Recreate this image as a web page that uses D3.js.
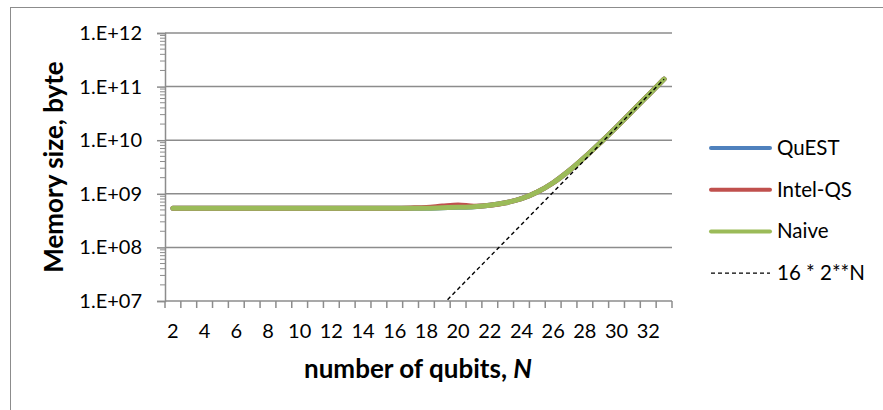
<!DOCTYPE html>
<html><head><meta charset="utf-8">
<script src="https://cdn.jsdelivr.net/npm/d3@7"></script>
<style>body{margin:0;background:#fff}svg{display:block}text{font-family:Lato,"Open Sans",sans-serif;fill:#000}</style>
</head><body><svg id="c" width="883" height="410"></svg>
<script>
const qubits = [2,3,4,5,6,7,8,9,10,11,12,13,14,15,16,17,18,19,20,21,22,23,24,25,26,27,28,29,30,31,32,33];
const quest = [5.4e8,5.4e8,5.4e8,5.4e8,5.4e8,5.4e8,5.4e8,5.4e8,5.4e8,5.4e8,5.4e8,5.4e8,5.4e8,5.4e8,5.4e8,5.4e8,5.4e8,5.5e8,5.6e8,5.75e8,6.1e8,6.8e8,8.1e8,1.08e9,1.61e9,2.69e9,4.83e9,9.13e9,1.77e10,3.49e10,6.93e10,1.38e11];
const intelQS = [5.4e8,5.4e8,5.4e8,5.4e8,5.4e8,5.4e8,5.4e8,5.4e8,5.4e8,5.4e8,5.4e8,5.4e8,5.4e8,5.4e8,5.4e8,5.45e8,5.55e8,5.9e8,6.2e8,5.85e8,6.1e8,6.8e8,8.1e8,1.08e9,1.61e9,2.69e9,4.83e9,9.13e9,1.77e10,3.49e10,6.93e10,1.38e11];
const naive = [5.4e8,5.4e8,5.4e8,5.4e8,5.4e8,5.4e8,5.4e8,5.4e8,5.4e8,5.4e8,5.4e8,5.4e8,5.4e8,5.4e8,5.4e8,5.4e8,5.4e8,5.5e8,5.6e8,5.75e8,6.1e8,6.8e8,8.1e8,1.08e9,1.61e9,2.69e9,4.83e9,9.13e9,1.77e10,3.49e10,6.93e10,1.38e11];
const ideal = [64,128,256,512,1024,2048,4096,8192,16384,32768,65536,131072,262144,524288,1048576,2097152,4194304,8388608,16777216,33554432,67108864,134217728,268435456,536870912,1073741824,2147483648,4294967296,8589934592,17179869184,34359738368,68719476736,137438953472];
const xTickLabels = [2,4,6,8,10,12,14,16,18,20,22,24,26,28,30,32];
const yTickValues = [1e7,1e8,1e9,1e10,1e11,1e12];
const yTickLabels = ["1.E+07","1.E+08","1.E+09","1.E+10","1.E+11","1.E+12"];
const seriesNames = ["QuEST","Intel-QS","Naive","16 * 2**N"];
const seriesColors = ["#4F81BD","#C0504D","#9BBB59","#000"];

const svg = d3.select("#c");
const L=165, R=672, T=33, B=301;
const grid = "#8c8c8c";

// outer frame
svg.append("rect").attr("x",10.5).attr("y",7.5).attr("width",900).attr("height",420)
  .attr("fill","none").attr("stroke","#8c8c8c").attr("stroke-width",1);

const x = d3.scaleBand().domain(qubits).range([L,R]).padding(0);
const y = d3.scaleLog().domain([1e7,1e12]).range([B,T]);

// gridlines
svg.append("g").selectAll("line").data(yTickValues.slice(1)).join("line")
  .attr("x1",L).attr("x2",R).attr("y1",d=>y(d)).attr("y2",d=>y(d))
  .attr("stroke",grid).attr("stroke-width",1.5);

// y minor ticks
const minor = [];
for (let e=7;e<12;e++) for (let m=2;m<=9;m++) minor.push(m*Math.pow(10,e));
svg.append("g").selectAll("line").data(minor).join("line")
  .attr("x1",L-5).attr("x2",L).attr("y1",d=>y(d)).attr("y2",d=>y(d))
  .attr("stroke",grid).attr("stroke-width",1);

// y axis
const yAxis = d3.axisLeft(y).tickValues(yTickValues).tickFormat((d,i)=>yTickLabels[i]).tickSize(8).tickPadding(15);
const gy = svg.append("g").attr("transform",`translate(${L},0)`).call(yAxis);
gy.select(".domain").attr("stroke",grid).attr("stroke-width",1.5);
gy.selectAll(".tick line").attr("stroke",grid).attr("stroke-width",1.5);
gy.selectAll("text").attr("font-size",20).attr("font-family","Lato").attr("fill","#000");

// x axis: ticks between categories
const xb = svg.append("g");
xb.append("line").attr("x1",L).attr("x2",R).attr("y1",B).attr("y2",B).attr("stroke",grid).attr("stroke-width",1.5);
const bounds = qubits.map(q=>x(q)).concat([R]);
xb.selectAll("line.t").data(bounds).join("line").attr("class","t")
  .attr("x1",d=>d).attr("x2",d=>d).attr("y1",B).attr("y2",B+7).attr("stroke",grid).attr("stroke-width",1.5);
xb.selectAll("text").data(xTickLabels).join("text")
  .attr("x",d=>x(d)+x.bandwidth()/2).attr("y",338).attr("text-anchor","middle")
  .attr("font-size",20).text(d=>d);

// axis titles
const xt = svg.append("text").attr("x",418).attr("y",378).attr("text-anchor","middle")
  .attr("font-size",26).attr("font-weight","bold");
xt.append("tspan").text("number of qubits, ");
xt.append("tspan").attr("font-style","italic").text("N");
svg.append("text").attr("transform",`translate(63,${(T+B)/2}) rotate(-90)`).attr("text-anchor","middle")
  .attr("font-size",26).attr("font-weight","bold").text("Memory size, byte");

// clip
svg.append("clipPath").attr("id","clip").append("rect").attr("x",L).attr("y",T-10).attr("width",R-L+10).attr("height",B-T+10);

const line = d3.line().x((d,i)=>x(qubits[i])+x.bandwidth()/2).y(d=>y(d)).curve(d3.curveMonotoneX);
const plot = svg.append("g").attr("clip-path","url(#clip)");
[quest,intelQS,naive].forEach((s,k)=>{
  plot.append("path").attr("d",line(s)).attr("fill","none").attr("stroke",seriesColors[k])
    .attr("stroke-width",5).attr("stroke-linecap","round").attr("stroke-linejoin","round");
});
const lineStraight = d3.line().x((d,i)=>x(qubits[i])+x.bandwidth()/2).y(d=>y(d));
plot.append("path").attr("d",lineStraight(ideal)).attr("fill","none").attr("stroke","#000")
  .attr("stroke-width",1.4).attr("stroke-dasharray","4,3");

// legend
const lg = svg.append("g");
seriesNames.forEach((n,i)=>{
  const yy = 148 + i*41.7;
  const ln = lg.append("line").attr("x1",711).attr("x2",770).attr("y1",yy).attr("y2",yy)
    .attr("stroke",seriesColors[i]);
  if (i<3) ln.attr("stroke-width",4).attr("stroke-linecap","round");
  else ln.attr("stroke-width",1.4).attr("stroke-dasharray","4,3");
  lg.append("text").attr("x",777).attr("y",yy+7).attr("font-size",20.5).text(n);
});
</script></body></html>
